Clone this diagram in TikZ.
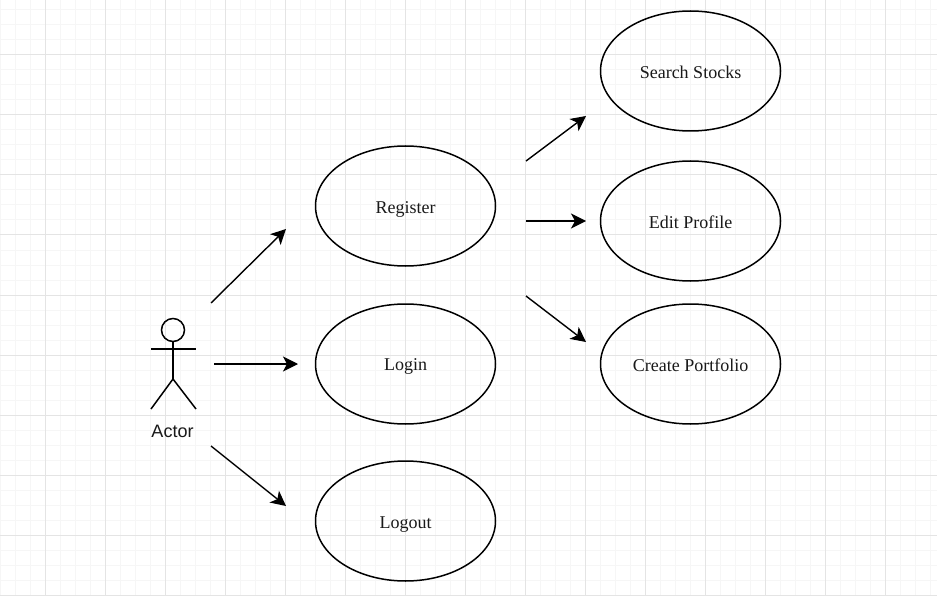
\documentclass[tikz,border=0pt]{standalone}
\usepackage{fontspec}
\setmainfont{Liberation Serif}
\newfontfamily\actorfont{Liberation Sans}
\usetikzlibrary{arrows.meta,shapes.geometric}
\definecolor{gridminor}{HTML}{F6F6F6}
\definecolor{gridmajor}{HTML}{E4E4E4}
\tikzset{
  x=1pt,y=-1pt,
  usecase/.style={draw=black,line width=1.5pt,ellipse,minimum width=180pt,minimum height=120pt,inner sep=0pt,font=\fontsize{18}{21}\selectfont,text=black!90,text height=14pt,text depth=0pt},
  flow/.style={draw=black,line width=1.4pt,-{Stealth[length=15pt,width=15pt,inset=4pt]}},
  actorline/.style={draw=black,line width=1.5pt},
}
\begin{document}
\begin{tikzpicture}
\useasboundingbox (0,0) rectangle (937,596);
\fill[white] (0,0) rectangle (937,596);
\foreach \gx in {0,15,...,930} \draw[gridminor,line width=1pt] (\gx,0) -- (\gx,596);
\foreach \gy in {10,25,...,595} \draw[gridminor,line width=1pt] (0,\gy) -- (937,\gy);
\foreach \gx in {45,105,...,930} \draw[gridmajor,line width=1pt] (\gx,0) -- (\gx,596);
\foreach \gy in {55,115,...,595} \draw[gridmajor,line width=1pt] (0,\gy) -- (937,\gy);

\node[usecase,text height=16pt] (register) at (405.5,206) {Register};
\node[usecase,text height=13pt] (login) at (405.5,364) {Login};
\node[usecase] (logout) at (405.5,521) {Logout};
\node[usecase,text height=16pt] (search) at (690.5,71) {Search Stocks};
\node[usecase,text height=16pt] (edit) at (690.5,221) {Edit Profile};
\node[usecase] (create) at (690.5,364) {Create Portfolio};

% actor
\node[draw=black,line width=1.5pt,circle,minimum size=23pt,inner sep=0pt] (head) at (173,330) {};
\coordinate (hip) at (173,379);
\coordinate (armL) at (151,349);
\coordinate (armR) at (196,349);
\coordinate (footL) at (151,409);
\coordinate (footR) at (196,409);
\draw[actorline] (head.south) -- (hip);
\draw[actorline] (armL) -- (armR);
\draw[actorline] (footL) -- (hip) -- (footR);
\node[font=\actorfont\fontsize{18}{21}\selectfont,text=black!90] (actor) at (172.5,431) {Actor};

% free connector ends
\coordinate (a1s) at (211,303);
\coordinate (a1e) at (286,229);
\coordinate (a2s) at (214,364);
\coordinate (a2e) at (298,364);
\coordinate (a3s) at (211,446);
\coordinate (a3e) at (286,506);
\coordinate (b1s) at (526,161);
\coordinate (b1e) at (586,116);
\coordinate (b2s) at (526,221);
\coordinate (b2e) at (586,221);
\coordinate (b3s) at (526,296);
\coordinate (b3e) at (586,342);
\draw[flow] (a1s) -- (a1e);
\draw[flow] (a2s) -- (a2e);
\draw[flow] (a3s) -- (a3e);
\draw[flow] (b1s) -- (b1e);
\draw[flow] (b2s) -- (b2e);
\draw[flow] (b3s) -- (b3e);
\end{tikzpicture}
\end{document}
